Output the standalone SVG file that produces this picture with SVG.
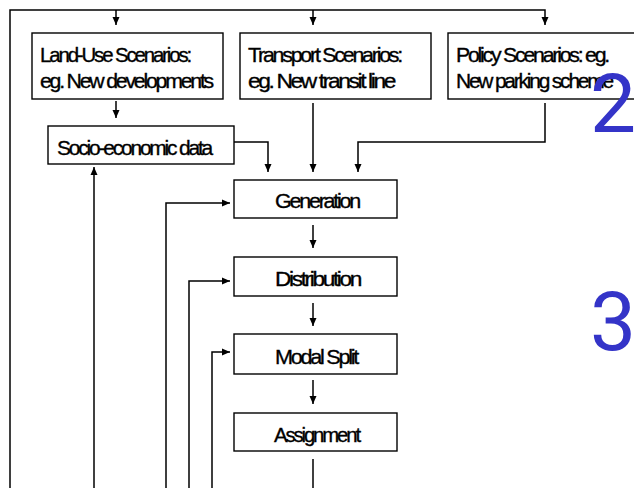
<svg xmlns="http://www.w3.org/2000/svg" width="634" height="488" viewBox="0 0 634 488">
<style>
.box{fill:#fff;stroke:#000;stroke-width:1.4}
.t{font-family:"Liberation Sans",Arial,sans-serif;font-size:21px;fill:#000;stroke:#000;stroke-width:0.35;letter-spacing:-2.2px}
.c{fill:none;stroke:#000;stroke-width:1.5}
.n{font-family:Roboto,"Liberation Sans",sans-serif;font-size:82px;fill:#3434c8}
</style>
<defs>
<marker id="ah" markerUnits="userSpaceOnUse" markerWidth="10" markerHeight="10" viewBox="0 0 10 10" refX="9" refY="5" orient="auto">
<path d="M1,1.5 L9,5 L1,8.5 Z" fill="#000"/>
</marker>
</defs>
<rect width="634" height="488" fill="#fff"/>
<g id="connectors">
<path class="c" d="M10,488 V10 H545 V25" marker-end="url(#ah)"/>
<path class="c" d="M116,10 V25" marker-end="url(#ah)"/>
<path class="c" d="M313,10 V25" marker-end="url(#ah)"/>
<path class="c" d="M116,101 V118" marker-end="url(#ah)"/>
<path class="c" d="M234,142 H268 V172" marker-end="url(#ah)"/>
<path class="c" d="M313,103 V172" marker-end="url(#ah)"/>
<path class="c" d="M545,103 V142 H358 V172" marker-end="url(#ah)"/>
<path class="c" d="M313,225 V248" marker-end="url(#ah)"/>
<path class="c" d="M313,303 V326" marker-end="url(#ah)"/>
<path class="c" d="M313,380 V404" marker-end="url(#ah)"/>
<path class="c" d="M313,459 V488"/>
<path class="c" d="M94,488 V167" marker-end="url(#ah)"/>
<path class="c" d="M166,488 V203 H230" marker-end="url(#ah)"/>
<path class="c" d="M189,488 V281 H230" marker-end="url(#ah)"/>
<path class="c" d="M212,488 V352 H230" marker-end="url(#ah)"/>
</g>
<g id="landuse">
<rect class="box" x="32" y="33" width="191" height="66"/>
<text class="t" x="40" y="62" textLength="150" lengthAdjust="spacingAndGlyphs">Land-Use Scenarios:</text>
<text class="t" x="40" y="88" textLength="172" lengthAdjust="spacingAndGlyphs">eg. New developments</text>
</g>
<g id="transport">
<rect class="box" x="240" y="33" width="191" height="66"/>
<text class="t" x="248" y="62" textLength="153" lengthAdjust="spacingAndGlyphs">Transport Scenarios:</text>
<text class="t" x="248" y="88" textLength="146" lengthAdjust="spacingAndGlyphs">eg. New transit line</text>
</g>
<g id="policy">
<rect class="box" x="448" y="33" width="192" height="66"/>
<text class="t" x="456" y="62" textLength="152" lengthAdjust="spacingAndGlyphs">Policy Scenarios: eg.</text>
<text class="t" x="456" y="88" textLength="156" lengthAdjust="spacingAndGlyphs">New parking scheme</text>
</g>
<g id="socio">
<rect class="box" x="48" y="126" width="186" height="38"/>
<text class="t" x="57" y="155" textLength="154" lengthAdjust="spacingAndGlyphs">Socio-economic data</text>
</g>
<g id="generation">
<rect class="box" x="234" y="180" width="163" height="38"/>
<text class="t" x="275" y="208" textLength="84" lengthAdjust="spacingAndGlyphs">Generation</text>
</g>
<g id="distribution">
<rect class="box" x="234" y="257" width="163" height="39"/>
<text class="t" x="275" y="286" textLength="85" lengthAdjust="spacingAndGlyphs">Distribution</text>
</g>
<g id="modalsplit">
<rect class="box" x="234" y="334" width="163" height="40"/>
<text class="t" x="275" y="364" textLength="82" lengthAdjust="spacingAndGlyphs">Modal Split</text>
</g>
<g id="assignment">
<rect class="box" x="234" y="413" width="163" height="38"/>
<text class="t" x="274" y="442" textLength="85" lengthAdjust="spacingAndGlyphs">Assignment</text>
</g>
<text class="n" x="590" y="132">2</text>
<text class="n" x="590" y="350">3</text>
</svg>
